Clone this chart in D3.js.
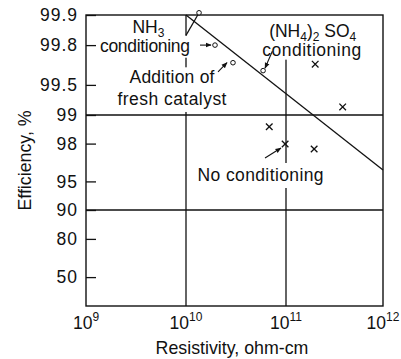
<!DOCTYPE html>
<html><head><meta charset="utf-8">
<script src="https://cdn.jsdelivr.net/npm/d3@7"></script>
<style>
html,body{margin:0;padding:0;background:#fff;}
svg text{font-family:"Liberation Sans",Arial,sans-serif;fill:#111;}
</style></head>
<body><svg id="c" width="401" height="359"></svg>
<script>
// ---------- data ----------
const resTicks = [1e9, 1e10, 1e11, 1e12];
const resTickExp = ["9", "10", "11", "12"];
const effTicks = [99.9, 99.8, 99.5, 99, 98, 95, 90, 80, 50];
const effTickLabels = ["99.9", "99.8", "99.5", "99", "98", "95", "90", "80", "50"];
const gridEff = [99, 90];
const gridRes = [1e10, 1e11];

// open circles (conditioned points)
const circleRes = [1.35e10, 1.95e10, 2.95e10, 5.9e10];
const circleEff = [99.905, 99.80, 99.70, 99.64];
// crosses (no conditioning)
const crossRes = [2.0e11, 3.84e11, 6.8e10, 9.8e10, 1.95e11];
const crossEff = [99.69, 99.17, 98.67, 97.98, 97.72];
// trend line
const trendRes = [1e10, 1e12];
const trendEff = [99.9, 96.2];
// short NH3 connecting segment
const nh3Res = [1e10, 1.35e10];
const nh3Eff = [99.84, 99.905];

// arrows
const arrowFromRes = [1.38e10, 2.09e10, 7.3e10, 6.17e10];
const arrowFromEff = [99.80, 99.63, 99.77, 97.16];
const arrowToRes = [1.78e10, 2.57e10, 6.17e10, 8.9e10];
const arrowToEff = [99.80, 99.70, 99.66, 97.77];

// annotation labels (anchor = centre of baseline)
const labelText = ["NH3", "conditioning", "Addition of", "fresh catalyst", "(NH4)2 SO4", "conditioning", "No conditioning"];
const labelRes = [4.21e9, 3.89e9, 7.24e9, 7.24e9, 1.885e11, 1.84e11, 5.56e10];
const labelEff = [99.848, 99.767, 99.518, 99.206, 99.835, 99.745, 95.05];

// ---------- styling ----------
const labelWidth = [0, 90, 85, 109, 0, 99, 126];
const padTop = [2, 0, 0, 1, 8, 0, 2];
const padBot = [1, 2, 1, 3, 0, 0, 3];
const FS = 17.5;

// ---------- scales ----------
const L = 86, R = 383, T = 15, B = 306;
const x = d3.scaleLog().domain(resTicks).range([L, 186, 286, R]);
// y: log of penetration (100 - efficiency)
const yp = d3.scaleLog().domain([0.1, 1, 10, 100]).range([T, 115, 210, B]);
const y = e => yp(100 - e);

const svg = d3.select("#c");

// gridlines
const grid = svg.append("g").attr("stroke", "#111").attr("stroke-width", 1.3);
grid.selectAll("line.h").data(gridEff).join("line").attr("class", "h")
  .attr("x1", L).attr("x2", R).attr("y1", d => y(d)).attr("y2", d => y(d));
grid.selectAll("line.v").data(gridRes).join("line").attr("class", "v")
  .attr("x1", d => x(d)).attr("x2", d => x(d)).attr("y1", T).attr("y2", B);

// y axis with inward ticks
const yAxis = d3.axisLeft(yp)
  .tickValues(effTicks.map(e => +(100 - e).toFixed(4)))
  .tickFormat((d, i) => effTickLabels[i])
  .tickSizeInner(-10).tickSizeOuter(0).tickPadding(8);
const ya = svg.append("g").attr("transform", `translate(${L},0)`).call(yAxis);
ya.select(".domain").remove();
ya.selectAll("line").attr("stroke", "#111").attr("stroke-width", 1.3);
ya.selectAll("text").attr("font-size", FS).attr("letter-spacing", 1)
  .attr("font-family", "Liberation Sans, Arial, sans-serif").attr("fill", "#111");

// x tick labels 10^n
const xl = svg.append("g");
resTicks.forEach((v, i) => {
  const t = xl.append("text").attr("x", x(v)).attr("y", 329).attr("text-anchor", "middle").attr("font-size", FS);
  t.append("tspan").text("10");
  t.append("tspan").attr("dy", -8).attr("font-size", 12).text(resTickExp[i]);
});

// axis titles
svg.append("text").attr("x", 232).attr("y", 354).attr("text-anchor", "middle")
  .attr("font-size", 17.8).text("Resistivity, ohm-cm");
svg.append("text").attr("transform", `translate(31,${(T + B) / 2}) rotate(-90)`).attr("text-anchor", "middle")
  .attr("font-size", 17.8).text("Efficiency, %");

// annotation labels with white masks
const masks = svg.append("g");
const labels = svg.append("g");
function addRich(g, s) {
  if (s === "NH3") {
    g.append("tspan").text("NH");
    g.append("tspan").attr("dy", 4).attr("font-size", 12).text("3");
  } else if (s === "(NH4)2 SO4") {
    g.append("tspan").text("(NH");
    g.append("tspan").attr("dy", 4).attr("font-size", 12).text("4");
    g.append("tspan").attr("dy", -4).text(")");
    g.append("tspan").attr("dy", 4).attr("font-size", 12).text("2");
    g.append("tspan").attr("dy", -4).text(" SO");
    g.append("tspan").attr("dy", 4).attr("font-size", 12).text("4");
  } else g.text(s);
}
labelText.forEach((s, i) => {
  const t = labels.append("text").attr("x", x(labelRes[i])).attr("y", y(labelEff[i]))
    .attr("text-anchor", "middle").attr("font-size", FS);
  addRich(t, s);
  if (labelWidth[i]) t.attr("textLength", labelWidth[i]).attr("lengthAdjust", "spacing");
  const bb = t.node().getBBox();
  masks.append("rect").attr("x", bb.x - 2).attr("y", bb.y - padTop[i])
    .attr("width", bb.width + 4).attr("height", bb.height + padTop[i] + padBot[i]).attr("fill", "#fff");
});

// frame
svg.append("rect").attr("x", L).attr("y", T).attr("width", R - L).attr("height", B - T)
  .attr("fill", "none").attr("stroke", "#111").attr("stroke-width", 1.4);

// lines
const line = d3.line().x(d => x(d[0])).y(d => y(d[1]));
svg.append("path").datum(trendRes.map((r, i) => [r, trendEff[i]])).attr("d", line)
  .attr("fill", "none").attr("stroke", "#111").attr("stroke-width", 1.3);
svg.append("path").datum(nh3Res.map((r, i) => [r, nh3Eff[i]])).attr("d", line)
  .attr("fill", "none").attr("stroke", "#111").attr("stroke-width", 1.2);

// arrows
const defs = svg.append("defs");
defs.append("marker").attr("id", "ah").attr("viewBox", "0 0 10 10").attr("refX", 9).attr("refY", 5)
  .attr("markerWidth", 6).attr("markerHeight", 6).attr("markerUnits", "userSpaceOnUse").attr("orient", "auto")
  .append("path").attr("d", "M0,1 L10,5 L0,9 Z").attr("fill", "#111");
arrowFromRes.forEach((r, i) => {
  svg.append("line").attr("x1", x(r)).attr("y1", y(arrowFromEff[i]))
    .attr("x2", x(arrowToRes[i])).attr("y2", y(arrowToEff[i]))
    .attr("stroke", "#111").attr("stroke-width", 1.1).attr("marker-end", "url(#ah)");
});

// circles
svg.selectAll("circle.pt").data(circleRes).join("circle").attr("class", "pt")
  .attr("cx", d => x(d)).attr("cy", (d, i) => y(circleEff[i])).attr("r", 2.3)
  .attr("fill", "#fff").attr("stroke", "#111").attr("stroke-width", 1);

// crosses
const s = 3.3;
svg.selectAll("path.x").data(crossRes).join("path").attr("class", "x")
  .attr("d", (d, i) => {
    const cx = x(d), cy = y(crossEff[i]);
    return `M${cx - s},${cy - s}L${cx + s},${cy + s}M${cx - s},${cy + s}L${cx + s},${cy - s}`;
  })
  .attr("stroke", "#111").attr("stroke-width", 1.3).attr("fill", "none");
</script></body></html>
